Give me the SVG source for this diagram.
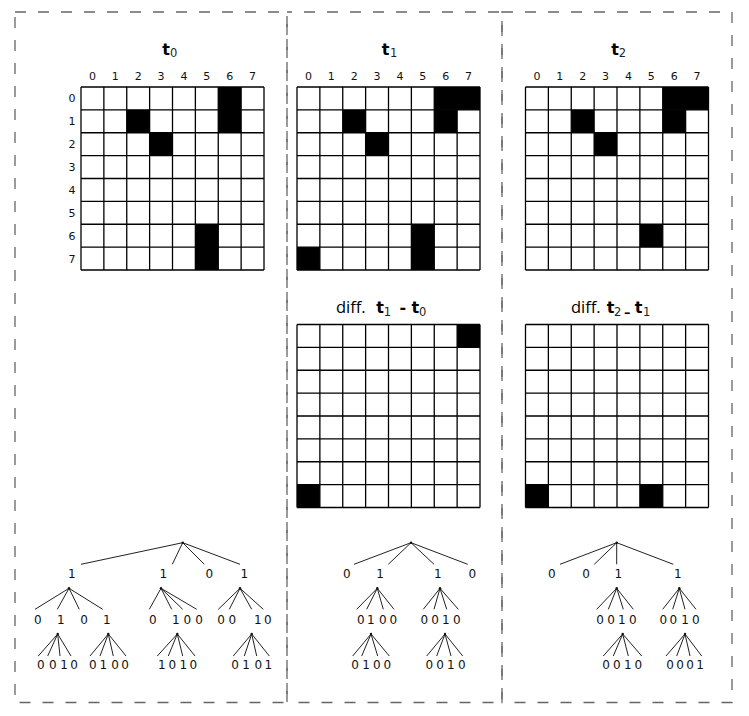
<svg xmlns="http://www.w3.org/2000/svg" xmlns:xlink="http://www.w3.org/1999/xlink" width="749" height="716" viewBox="0 0 749 716">
<style>
.panel{fill:none;stroke:#666;stroke-width:1.3;stroke-dasharray:11,12}
.gl{fill:none;stroke:#000;stroke-width:1.3}
.cell{fill:#000}
.ax{font-family:"DejaVu Sans",sans-serif;font-size:11px;fill:#111;text-anchor:middle}
.tt{font-family:"DejaVu Sans",sans-serif;font-size:16px;font-weight:bold;fill:#000;text-anchor:middle}
.sub{font-family:"DejaVu Sans",sans-serif;font-size:11.5px;fill:#222;text-anchor:middle}
.df{font-family:"Open Sans",sans-serif;font-size:16.5px;fill:#000}
.tn{font-family:"DejaVu Sans",sans-serif;font-size:12px;fill:#111;text-anchor:middle}
.edge{fill:none;stroke:#222;stroke-width:1}
.dot{fill:#111}
</style>
<defs>
<path id="grid" class="gl" d="M0 0V183M22.875 0V183M45.75 0V183M68.625 0V183M91.5 0V183M114.375 0V183M137.25 0V183M160.125 0V183M183 0V183M0 0H183M0 22.875H183M0 45.75H183M0 68.625H183M0 91.5H183M0 114.375H183M0 137.25H183M0 160.125H183M0 183H183"/>
</defs>
<rect width="749" height="716" fill="#fff"/>
<g id="panels">
<rect class="panel" x="15" y="12" width="272" height="690.5"/>
<rect class="panel" x="287" y="12" width="215" height="690.5" style="stroke-dashoffset:6"/>
<rect class="panel" x="502" y="12" width="230" height="690.5"/>
</g>

<g id="grid-t0">
<text class="tt" x="166.2" y="55">t</text><text class="sub" x="173.7" y="57">0</text>
<g class="ax">
<text x="92.44" y="80">0</text><text x="115.31" y="80">1</text><text x="138.19" y="80">2</text><text x="161.06" y="80">3</text><text x="183.94" y="80">4</text><text x="206.81" y="80">5</text><text x="229.69" y="80">6</text><text x="252.56" y="80">7</text>
<text x="72" y="102.4">0</text><text x="72" y="125.3">1</text><text x="72" y="148.2">2</text><text x="72" y="171.1">3</text><text x="72" y="193.9">4</text><text x="72" y="216.8">5</text><text x="72" y="239.7">6</text><text x="72" y="262.6">7</text>
</g>
<rect class="cell" x="218.25" y="87" width="22.875" height="45.75"/>
<rect class="cell" x="126.75" y="109.875" width="22.875" height="22.875"/>
<rect class="cell" x="149.625" y="132.75" width="22.875" height="22.875"/>
<rect class="cell" x="195.375" y="224.25" width="22.875" height="45.75"/>
<use xlink:href="#grid" x="81" y="87"/>
</g>

<g id="grid-t1">
<text class="tt" x="385.7" y="55">t</text><text class="sub" x="393.7" y="57">1</text>
<g class="ax">
<text x="308.44" y="80">0</text><text x="331.31" y="80">1</text><text x="354.19" y="80">2</text><text x="377.06" y="80">3</text><text x="399.94" y="80">4</text><text x="422.81" y="80">5</text><text x="445.69" y="80">6</text><text x="468.56" y="80">7</text>
</g>
<rect class="cell" x="434.25" y="87" width="45.75" height="22.875"/>
<rect class="cell" x="434.25" y="109.875" width="22.875" height="22.875"/>
<rect class="cell" x="342.75" y="109.875" width="22.875" height="22.875"/>
<rect class="cell" x="365.625" y="132.75" width="22.875" height="22.875"/>
<rect class="cell" x="411.375" y="224.25" width="22.875" height="45.75"/>
<rect class="cell" x="297" y="247.125" width="22.875" height="22.875"/>
<use xlink:href="#grid" x="297" y="87"/>
</g>

<g id="grid-t2">
<text class="tt" x="615" y="55">t</text><text class="sub" x="622.3" y="57">2</text>
<g class="ax">
<text x="536.94" y="80">0</text><text x="559.81" y="80">1</text><text x="582.69" y="80">2</text><text x="605.56" y="80">3</text><text x="628.44" y="80">4</text><text x="651.31" y="80">5</text><text x="674.19" y="80">6</text><text x="697.06" y="80">7</text>
</g>
<rect class="cell" x="662.75" y="87" width="45.75" height="22.875"/>
<rect class="cell" x="662.75" y="109.875" width="22.875" height="22.875"/>
<rect class="cell" x="571.25" y="109.875" width="22.875" height="22.875"/>
<rect class="cell" x="594.125" y="132.75" width="22.875" height="22.875"/>
<rect class="cell" x="639.875" y="224.25" width="22.875" height="22.875"/>
<use xlink:href="#grid" x="525.5" y="87"/>
</g>

<g id="grid-diff1">
<text class="df" x="336" y="313">diff.</text>
<text class="tt" x="380" y="313">t</text><text class="sub" x="387.3" y="316">1</text>
<text class="tt" x="402.7" y="313">-</text>
<text class="tt" x="415.3" y="313">t</text><text class="sub" x="422.7" y="316">0</text>
<rect class="cell" x="457.125" y="324.5" width="22.875" height="22.875"/>
<rect class="cell" x="297" y="484.625" width="22.875" height="22.875"/>
<use xlink:href="#grid" x="297" y="324.5"/>
</g>

<g id="grid-diff2">
<text class="df" x="571" y="313">diff.</text>
<text class="tt" x="610.7" y="313">t</text><text class="sub" x="617.7" y="316">2</text>
<text class="tt" x="627.3" y="317" style="font-size:13px">–</text>
<text class="tt" x="638.7" y="313">t</text><text class="sub" x="646.7" y="316">1</text>
<rect class="cell" x="525.5" y="484.625" width="22.875" height="22.875"/>
<rect class="cell" x="639.875" y="484.625" width="22.875" height="22.875"/>
<use xlink:href="#grid" x="525.5" y="324.5"/>
</g>

<g id="connectors">
<path class="edge" d="M182.7 542.7L81 564.3M182.7 542.7L172.3 564.3M182.7 542.7L204.3 564.3M182.7 542.7L240 564.3
M69 588.3L35 609.3M69 588.3L57.3 609.3M69 588.3L79.3 609.3M69 588.3L102.7 609.3
M161 588.3L149.3 609.3M161 588.3L171.7 609.3M161 588.3L182.7 609.3M161 588.3L196.7 609.3
M240 588.3L218.3 609.3M240 588.3L229.3 609.3M240 588.3L251.7 609.3M240 588.3L263.3 609.3
M57.7 634L38.3 656M57.7 634L47.7 656M57.7 634L60 656M57.7 634L71 656
M108.3 634L90 656M108.3 634L100 656M108.3 634L113.3 656M108.3 634L126 656
M177.3 634L157.3 656M177.3 634L168.3 656M177.3 634L182.7 656M177.3 634L195 656
M251.7 634L233.3 656M251.7 634L244.3 656M251.7 634L256.7 656M251.7 634L269.3 656"/>
<path class="edge" d="M411 542.7L354 564.3M411 542.7L388.3 564.3M411 542.7L434 564.3M411 542.7L467.7 564.3
M377.3 588.3L356.7 609.3M377.3 588.3L366.7 609.3M377.3 588.3L383.3 609.3M377.3 588.3L394 609.3
M440 588.3L423.3 609.3M440 588.3L434 609.3M440 588.3L446.7 609.3M440 588.3L458.3 609.3
M371 634L352.7 656M371 634L361.7 656M371 634L377.7 656M371 634L389.3 656
M445 634L426.7 656M445 634L436.7 656M445 634L451 656M445 634L462.7 656"/>
<path class="edge" d="M616.7 542.7L560 564.3M616.7 542.7L594.3 564.3M616.7 542.7L616.7 564.3M616.7 542.7L673.3 564.3
M616.7 588.3L596.7 609.3M616.7 588.3L608.3 609.3M616.7 588.3L623.3 609.3M616.7 588.3L633.3 609.3
M679.3 588.3L662.7 609.3M679.3 588.3L672.7 609.3M679.3 588.3L685 609.3M679.3 588.3L696 609.3
M622.7 634L603.3 656M622.7 634L613.3 656M622.7 634L628.3 656M622.7 634L641.7 656
M685 634L666 656M685 634L676.7 656M685 634L690 656M685 634L701.7 656"/>
<g class="dot">
<circle cx="182.7" cy="542.7" r="1.2"/><circle cx="69" cy="588.3" r="1.2"/><circle cx="161" cy="588.3" r="1.2"/><circle cx="240" cy="588.3" r="1.2"/>
<circle cx="57.7" cy="634" r="1.2"/><circle cx="108.3" cy="634" r="1.2"/><circle cx="177.3" cy="634" r="1.2"/><circle cx="251.7" cy="634" r="1.2"/>
<circle cx="411" cy="542.7" r="1.2"/><circle cx="377.3" cy="588.3" r="1.2"/><circle cx="440" cy="588.3" r="1.2"/><circle cx="371" cy="634" r="1.2"/><circle cx="445" cy="634" r="1.2"/>
<circle cx="616.7" cy="542.7" r="1.2"/><circle cx="616.7" cy="588.3" r="1.2"/><circle cx="679.3" cy="588.3" r="1.2"/><circle cx="622.7" cy="634" r="1.2"/><circle cx="685" cy="634" r="1.2"/>
</g>
</g>

<g id="tree-t0" class="tn">
<text x="71.7" y="577.5">1</text><text x="163.3" y="577.5">1</text><text x="209.3" y="577.5">0</text><text x="244.3" y="577.5">1</text>
<text x="37.7" y="623.5">0</text><text x="60.7" y="623.5">1</text><text x="84" y="623.5">0</text><text x="106.7" y="623.5">1</text>
<text x="152.7" y="623.5">0</text><text x="175.7" y="623.5">1</text><text x="187.3" y="623.5">0</text><text x="199" y="623.5">0</text>
<text x="221" y="623.5">0</text><text x="232.3" y="623.5">0</text><text x="257.7" y="623.5">1</text><text x="267.7" y="623.5">0</text>
<text x="40.7" y="668.5">0</text><text x="52.7" y="668.5">0</text><text x="64" y="668.5">1</text><text x="74" y="668.5">0</text>
<text x="92.7" y="668.5">0</text><text x="103.3" y="668.5">1</text><text x="115" y="668.5">0</text><text x="125" y="668.5">0</text>
<text x="161.7" y="668.5">1</text><text x="172.3" y="668.5">0</text><text x="183.3" y="668.5">1</text><text x="193.3" y="668.5">0</text>
<text x="235" y="668.5">0</text><text x="246" y="668.5">1</text><text x="258.3" y="668.5">0</text><text x="268.3" y="668.5">1</text>
</g>

<g id="tree-t1" class="tn">
<text x="346.7" y="577.5">0</text><text x="380" y="577.5">1</text><text x="437.7" y="577.5">1</text><text x="472.3" y="577.5">0</text>
<text x="360.7" y="623.5">0</text><text x="370.7" y="623.5">1</text><text x="382.7" y="623.5">0</text><text x="393.3" y="623.5">0</text>
<text x="424.3" y="623.5">0</text><text x="435" y="623.5">0</text><text x="445.7" y="623.5">1</text><text x="456.7" y="623.5">0</text>
<text x="355" y="668.5">0</text><text x="366" y="668.5">1</text><text x="376.7" y="668.5">0</text><text x="387.3" y="668.5">0</text>
<text x="429.3" y="668.5">0</text><text x="440" y="668.5">0</text><text x="450.7" y="668.5">1</text><text x="461.7" y="668.5">0</text>
</g>

<g id="tree-t2" class="tn">
<text x="551.7" y="577.5">0</text><text x="586" y="577.5">0</text><text x="618.3" y="577.5">1</text><text x="677.7" y="577.5">1</text>
<text x="600" y="623.5">0</text><text x="611" y="623.5">0</text><text x="621.7" y="623.5">1</text><text x="632.7" y="623.5">0</text>
<text x="663.3" y="623.5">0</text><text x="673.3" y="623.5">0</text><text x="685" y="623.5">1</text><text x="695.7" y="623.5">0</text>
<text x="606" y="668.5">0</text><text x="616.7" y="668.5">0</text><text x="627.7" y="668.5">1</text><text x="638.3" y="668.5">0</text>
<text x="670" y="668.5">0</text><text x="680" y="668.5">0</text><text x="690" y="668.5">0</text><text x="700" y="668.5">1</text>
</g>
</svg>
